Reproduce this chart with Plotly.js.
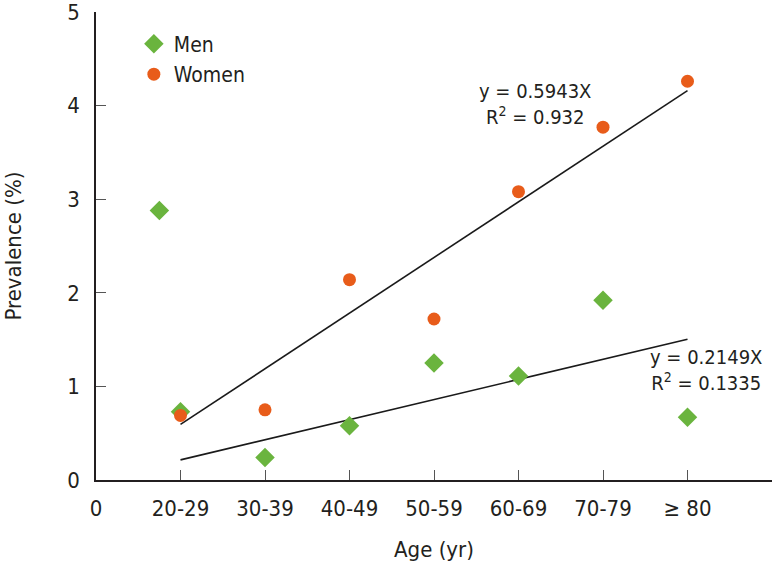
<!DOCTYPE html>
<html>
<head>
<meta charset="utf-8">
<script src="https://cdn.plot.ly/plotly-3.0.1.min.js"></script>
<style>
  html, body { margin: 0; padding: 0; background: #fff; }
  #chart { width: 775px; height: 567px; }
</style>
</head>
<body>
<div id="chart"></div>
<script>
var ageLabels = ['0', '20-29', '30-39', '40-49', '50-59', '60-69', '70-79', '\u2265 80'];
var tickPos = [0, 1, 2, 3, 4, 5, 6, 7];
var endTick = [8];

var menX = [0.75, 1, 2, 3, 4, 5, 6, 7];
var menY = [2.88, 0.73, 0.24, 0.58, 1.25, 1.11, 1.92, 0.67];

var womenX = [1, 2, 3, 4, 5, 6, 7];
var womenY = [0.69, 0.75, 2.14, 1.72, 3.08, 3.77, 4.26];

// fitted lines y = slope * x, drawn over the 20-29 .. >=80 span
var fitX = [1, 7];
var womenSlope = 0.5943;
var menSlope = 0.2149;

var font = '"DejaVu Sans Condensed", "Roboto", sans-serif';

var men = {
  x: menX, y: menY,
  mode: 'markers', name: 'Men',
  marker: { symbol: 'diamond', color: '#6ab43e', size: 15 }
};

var women = {
  x: womenX, y: womenY,
  mode: 'markers', name: 'Women',
  marker: { symbol: 'circle', color: '#e85c1a', size: 13 }
};

var womenFit = {
  x: fitX, y: fitX.map(function (v) { return womenSlope * v; }),
  mode: 'lines', showlegend: false, hoverinfo: 'skip',
  line: { color: '#1a1a1a', width: 1.6 }
};

var menFit = {
  x: fitX, y: fitX.map(function (v) { return menSlope * v; }),
  mode: 'lines', showlegend: false, hoverinfo: 'skip',
  line: { color: '#1a1a1a', width: 1.6 }
};

var layout = {
  width: 775, height: 567,
  margin: { l: 96, r: 3, t: 12, b: 87 },
  paper_bgcolor: '#fff', plot_bgcolor: '#fff',
  font: { family: font, size: 22, color: '#231f20' },
  showlegend: true,
  legend: {
    x: 0.056, y: 0.975, xanchor: 'left', yanchor: 'top',
    bgcolor: 'rgba(0,0,0,0)', font: { size: 21 },
    tracegroupgap: 0, itemwidth: 30
  },
  xaxis: {
    range: [0, 8], tickvals: tickPos, ticktext: ageLabels,
    showgrid: false, zeroline: false,
    showline: true, linecolor: '#231f20', linewidth: 1.5,
    ticks: 'inside', ticklen: 10, tickcolor: '#555', tickwidth: 1,
    minor: { tickvals: endTick, ticks: 'inside', ticklen: 10, tickcolor: '#555', tickwidth: 1, showgrid: false },
    ticklabelstandoff: 8,
    title: { text: 'Age (yr)', font: { size: 22 }, standoff: 21 }
  },
  yaxis: {
    range: [0, 5], dtick: 1,
    showgrid: false, zeroline: false,
    showline: true, linecolor: '#231f20', linewidth: 1.5,
    ticks: 'inside', ticklen: 10, tickcolor: '#555', tickwidth: 1,
    ticklabelstandoff: 10, ticklabeloverflow: 'allow',
    title: { text: 'Prevalence (%)', font: { size: 22 }, standoff: 40 }
  },
  annotations: [
    {
      x: 5.2, y: 4.02, xref: 'x', yref: 'y', showarrow: false,
      text: 'y = 0.5943X<br>R<sup>2</sup> = 0.932',
      font: { size: 20 }, align: 'center'
    },
    {
      x: 7.22, y: 1.17, xref: 'x', yref: 'y', showarrow: false,
      text: 'y = 0.2149X<br>R<sup>2</sup> = 0.1335',
      font: { size: 20 }, align: 'center'
    }
  ]
};

Plotly.newPlot('chart', [womenFit, menFit, men, women], layout, { displayModeBar: false });
</script>
</body>
</html>
